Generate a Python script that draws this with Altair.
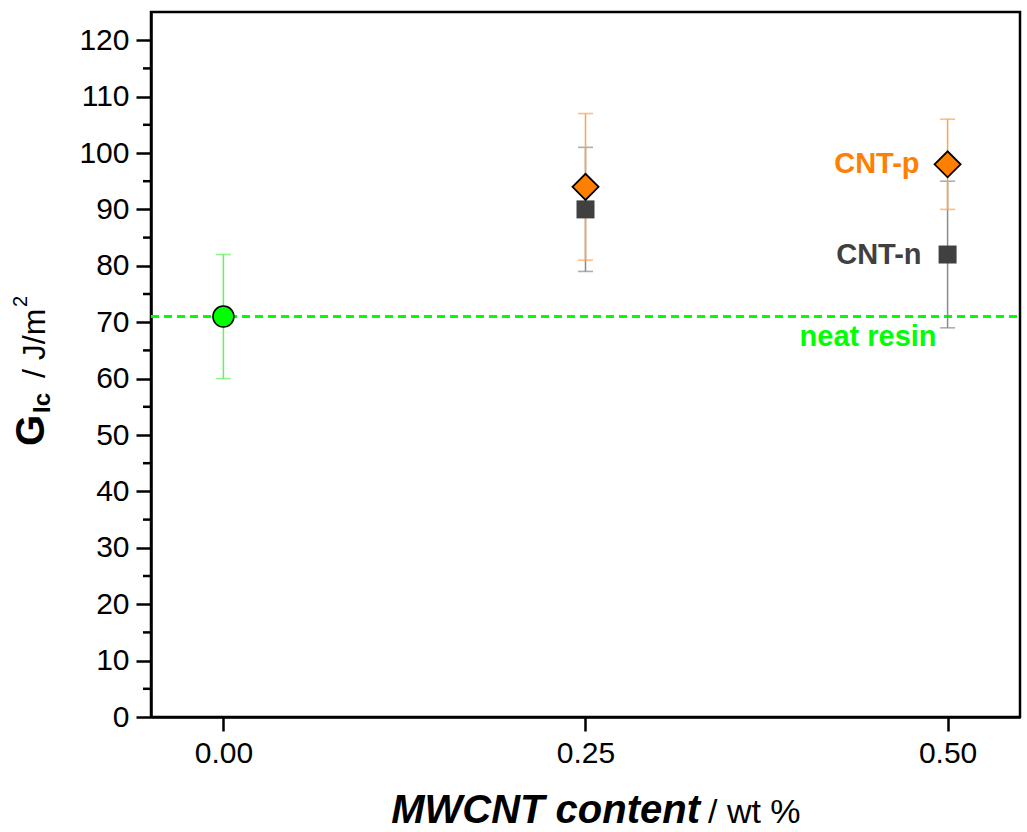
import altair as alt
import pandas as pd

# ---- data ----
contents = [0.00, 0.25, 0.50, 0.25, 0.50]
series = ["neat resin", "CNT-p", "CNT-p", "CNT-n", "CNT-n"]
gic_mean = [71, 94, 98, 90, 82]
gic_low = [60, 81, 90, 79, 69]
gic_high = [82, 107, 106, 101, 95]

neat_resin_level = 71
y_major = list(range(0, 121, 10))
y_minor = list(range(5, 120, 10))
x_ticks = [0.0, 0.25, 0.5]

df = pd.DataFrame({"content": contents, "series": series, "mean": gic_mean,
                   "low": gic_low, "high": gic_high})

W, H = 869, 705
FONT = "Liberation Sans"

xs = alt.Scale(domain=[-0.05, 0.55], nice=False, zero=False)
ys = alt.Scale(domain=[0, 125], nice=False, zero=False)

xaxis = alt.Axis(values=x_ticks, format=".2f", title=None, tickSize=14, labelPadding=7,
                 labelFontSize=30, grid=False)
yaxis = alt.Axis(values=y_major, title=None, tickSize=15, labelPadding=7,
                 labelFontSize=30, grid=False)

X = alt.X("content:Q", scale=xs, axis=xaxis)
Y = alt.Y("mean:Q", scale=ys, axis=yaxis)

base = alt.Chart(df)

styles = {
    "neat resin": dict(bar="#5CF55C", fill="#00FF00", shape="circle", size=441, stroke="black", sw=1.5),
    "CNT-n": dict(bar="#8A8A8A", fill="#404040", shape="square", size=324, stroke="#404040", sw=0),
    "CNT-p": dict(bar="#FFA04A", fill="#FF8000", shape="diamond", size=680, stroke="black", sw=1.8),
}

# dashed neat-resin reference line
ref = alt.Chart(pd.DataFrame({"v": [neat_resin_level]})).mark_rule(
    color="#00FF00", strokeWidth=3, strokeDash=[8, 5]
).encode(y=alt.Y("v:Q", scale=ys, axis=yaxis), x=alt.value(0), x2=alt.value(W))

layers = [ref]
for name in ["neat resin", "CNT-n", "CNT-p"]:
    s = styles[name]
    sub = base.transform_filter(alt.datum.series == name)
    layers.append(sub.mark_rule(color=s["bar"], strokeWidth=1.5).encode(
        x=X, y=alt.Y("low:Q", scale=ys, axis=yaxis), y2="high:Q"))
    for col in ["low", "high"]:
        layers.append(sub.mark_tick(color=s["bar"], orient="horizontal", size=15, thickness=1.6).encode(
            x=X, y=alt.Y(f"{col}:Q", scale=ys, axis=yaxis)))
for name in ["neat resin", "CNT-n", "CNT-p"]:
    s = styles[name]
    sub = base.transform_filter(alt.datum.series == name)
    layers.append(sub.mark_point(shape=s["shape"], size=s["size"], filled=True, fill=s["fill"],
                                 stroke=s["stroke"], strokeWidth=s["sw"], opacity=1).encode(x=X, y=Y))

# minor y ticks
minor = alt.Chart(pd.DataFrame({"v": y_minor})).mark_rule(color="black", strokeWidth=2.5).encode(
    y=alt.Y("v:Q", scale=ys, axis=yaxis), x=alt.value(-8), x2=alt.value(0))
layers.append(minor)

# series annotations
ann = pd.DataFrame({
    "content": [0.5, 0.5, 0.5],
    "val": [98, 82, 67.3],
    "label": ["CNT-p", "CNT-n", "neat resin"],
    "color": ["#FF8000", "#404040", "#00FF00"],
    "dx": [-28, -26, -11],
})
for i in range(3):
    row = ann.iloc[[i]]
    layers.append(alt.Chart(row).mark_text(
        font=FONT, fontSize=29, fontWeight="bold", align="right", baseline="middle",
        color=row["color"].iloc[0], dx=int(row["dx"].iloc[0])
    ).encode(x=alt.X("content:Q", scale=xs, axis=xaxis), y=alt.Y("val:Q", scale=ys, axis=yaxis),
             text="label:N"))

# axis titles built from text pieces (sub/superscripts, mixed styles)
def txt(t, x, y, size, weight="normal", style="normal", align="left", angle=0):
    return alt.Chart(pd.DataFrame({"t": [t]})).mark_text(
        font=FONT, fontSize=size, fontWeight=weight, fontStyle=style, align=align,
        baseline="alphabetic", angle=angle, color="black"
    ).encode(text="t:N", x=alt.value(x), y=alt.value(y))

layers += [
    txt("MWCNT content", 549, 811, 40, weight="bold", style="italic", align="right"),
    txt("/ wt %", 557, 811, 34, align="left"),
    txt("G", -107, 434, 40, weight="bold", angle=270),
    txt("Ic", -101, 401, 24, weight="bold", angle=270),
    txt("/ J/m", -106, 366, 32, angle=270),
    txt("2", -124, 295, 20, angle=270),
]

chart = alt.layer(*layers).properties(
    width=W, height=H,
    autosize=alt.AutoSizeParams(type="none"),
    padding={"left": 151, "top": 12, "right": 7, "bottom": 115},
    background="white",
).configure_view(stroke="black", strokeWidth=2.5).configure_axis(
    labelFont=FONT, labelColor="black", domainColor="black", domainWidth=2.5,
    tickColor="black", tickWidth=2.5,
)

chart.save("out.html", embed_options={"renderer": "svg", "actions": False})
